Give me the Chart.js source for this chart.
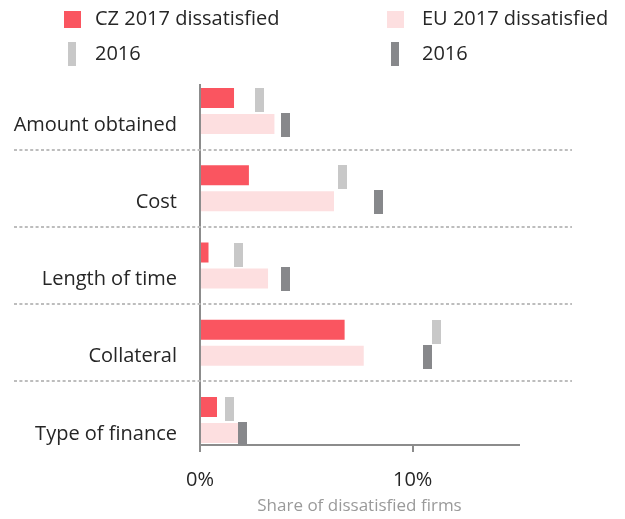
<!DOCTYPE html>
<html>
<head>
<meta charset="utf-8">
<script src="https://cdn.jsdelivr.net/npm/chart.js@4.4.1/dist/chart.umd.min.js"></script>
<style>
  body { margin: 0; background: #fff; }
  #wrap { position: relative; width: 625px; height: 519px; font-family: "Open Sans", sans-serif; }
  #legend .item { position: absolute; font-size: 20px; color: #262626; line-height: 24px; white-space: nowrap; }
  #legend .swatch { position: absolute; }
</style>
</head>
<body>
<div id="wrap">
  <canvas id="chart" width="625" height="519"></canvas>
  <div id="legend"></div>
</div>
<script>
var categories = ["Amount obtained", "Cost", "Length of time", "Collateral", "Type of finance"];
var cz2017 = [1.6, 2.3, 0.4, 6.8, 0.8];
var eu2017 = [3.5, 6.3, 3.2, 7.7, 2.1];
var cz2016 = [2.8, 6.7, 1.8, 11.1, 1.4];
var eu2016 = [4.0, 8.4, 4.0, 10.7, 2.0];
var xTicks = [0, 10];

var red = "#fa5560", pink = "#fddfe0", lightGrey = "#c8c8c8", darkGrey = "#87888b";
var font = "'Open Sans', sans-serif";

// small upright block used as the 2016 marker
function markerImg(color) {
    var c = document.createElement("canvas");
    c.width = 9;
    c.height = 24;
    var g = c.getContext("2d");
    g.fillStyle = color;
    g.fillRect(0, 0, 9, 24);
    return c;
}

function points(values, shift) {
    return values.map(function (v, i) { return { x: v, y: i + shift }; });
}

// dotted separators between categories, running past the plot on both sides
var separators = {
    id: "separators",
    beforeDatasetsDraw: function (chart) {
        var y = chart.scales.y, ctx = chart.ctx;
        ctx.save();
        ctx.strokeStyle = "#bdbdbd";
        ctx.lineWidth = 2;
        ctx.setLineDash([3, 2.4]);
        for (var i = 0; i < categories.length - 1; i++) {
            var py = Math.round(y.getPixelForValue(i + 0.5));
            ctx.beginPath();
            ctx.moveTo(14, py);
            ctx.lineTo(572, py);
            ctx.stroke();
        }
        ctx.restore();
    }
};

var config = {
    type: "bar",
    data: {
        datasets: [
            { label: "CZ 2017 dissatisfied", data: points(cz2017, 0), backgroundColor: red, order: 1 },
            { label: "EU 2017 dissatisfied", data: points(eu2017, 0), backgroundColor: pink, order: 1 },
            { type: "scatter", label: "2016", data: points(cz2016, -0.14), pointStyle: markerImg(lightGrey), pointRadius: 5, order: 0 },
            { type: "scatter", label: "2016", data: points(eu2016, 0.18), pointStyle: markerImg(darkGrey), pointRadius: 5, order: 0 }
        ]
    },
    options: {
        indexAxis: "y",
        responsive: false,
        animation: false,
        categoryPercentage: 0.673,
        barPercentage: 0.77,
        layout: { padding: { top: 85, right: 106, left: 0, bottom: 0 } },
        plugins: { legend: { display: false }, tooltip: { enabled: false } },
        scales: {
            y: {
                type: "linear",
                reverse: true,
                min: -0.337,
                max: 4.324,
                offset: false,
                grid: { display: false, drawTicks: false, offset: false },
                border: { color: "#8c8c8c", width: 2 },
                afterBuildTicks: function (s) {
                    s.ticks = categories.map(function (c, i) { return { value: i }; });
                },
                afterFit: function (s) { s.width = 200; },
                ticks: {
                    padding: 23,
                    labelOffset: 14,
                    color: "#262626",
                    font: { family: font, size: 20 },
                    callback: function (v) { return categories[v]; }
                }
            },
            x: {
                type: "linear",
                min: 0,
                max: 15,
                grid: { drawOnChartArea: false, color: "#8c8c8c", tickLength: 7, lineWidth: 2 },
                border: { color: "#8c8c8c", width: 2 },
                afterBuildTicks: function (s) {
                    s.ticks = xTicks.map(function (v) { return { value: v }; });
                },
                afterFit: function (s) { s.height = 74; },
                ticks: {
                    padding: 16,
                    color: "#262626",
                    font: { family: font, size: 20 },
                    callback: function (v) { return v + "%"; }
                },
                title: {
                    display: true,
                    text: "Share of dissatisfied firms",
                    color: "#9a9a9a",
                    font: { family: font, size: 17 },
                    padding: { top: 0, bottom: 3 }
                }
            }
        }
    },
    plugins: [separators]
};

var ctx = document.getElementById("chart").getContext("2d");
window.myChart = new Chart(ctx, config);

// legend in two columns, built from the datasets
var legendPos = [[64, 19, 95], [387, 19, 422], [64, 54, 95], [387, 54, 422]];
var legend = document.getElementById("legend");
config.data.datasets.forEach(function (ds, i) {
    var p = legendPos[i];
    var sw = document.createElement("div");
    sw.className = "swatch";
    if (ds.type === "scatter") {
        sw.style.cssText = "left:" + (p[0] + 4) + "px;top:" + (p[1] - 12) + "px;width:8px;height:24px;background:" + ds.pointStyle.getContext("2d").fillStyle;
    } else {
        sw.style.cssText = "left:" + p[0] + "px;top:" + (p[1] - 8) + "px;width:17px;height:17px;background:" + ds.backgroundColor;
    }
    legend.appendChild(sw);
    var t = document.createElement("div");
    t.className = "item";
    t.textContent = ds.label;
    t.style.left = p[2] + "px";
    t.style.top = (p[1] - 13) + "px";
    legend.appendChild(t);
});
</script>
</body>
</html>
